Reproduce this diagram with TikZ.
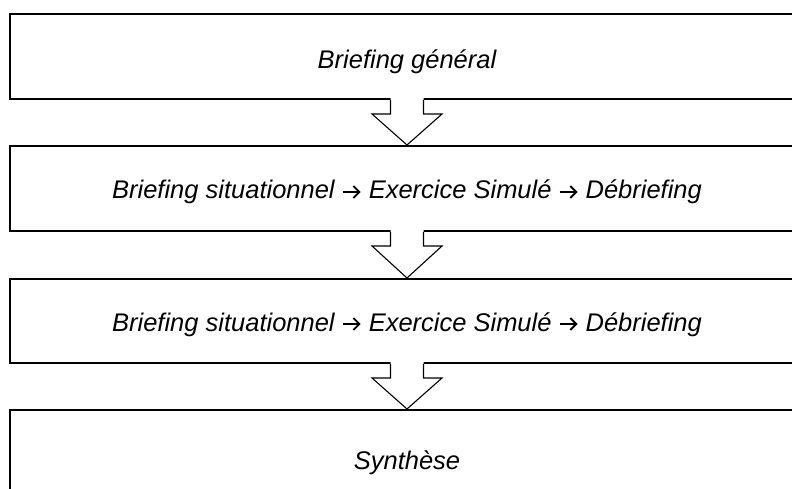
\documentclass[tikz,border=0pt]{standalone}
\usepackage{fontspec}
\setmainfont{Liberation Sans}
\usetikzlibrary{calc,arrows.meta}
\tikzset{
  stage/.style={draw=black, line width=2pt, fill=white, minimum width=794pt, inner sep=0pt, text depth=0pt, font=\fontsize{25.5}{30}\selectfont\itshape},
  blockarrow/.style={draw=black, line width=1.1pt, line join=miter},
}
\newcommand{\arr}{\tikz[baseline=-7pt,x=1pt,y=1pt]{\draw[draw=black, line width=1.9pt, line cap=butt, -{Straight Barb[length=6pt,width=12pt,line width=1.9pt]}] (0,0) -- (18,0);}}
\begin{document}
\begin{tikzpicture}[x=1pt,y=1pt]
\useasboundingbox (0,0) rectangle (792,-489);
\clip (0,0) rectangle (792,-489);
\node[stage, minimum height=84.5pt, text height=24pt] (b1) at (407,-56.75) {Briefing général};
\node[stage, minimum height=85pt, text height=21pt] (b2) at (407,-188.5) {Briefing situationnel \arr{} Exercice Simulé \arr{} Débriefing};
\node[stage, minimum height=84pt, text height=20pt] (b3) at (407,-321) {Briefing situationnel \arr{} Exercice Simulé \arr{} Débriefing};
\node[stage, minimum height=100pt, text height=18pt] (b4) at (407,-460) {Synthèse};
\foreach \a/\b in {b1/b2, b2/b3, b3/b4}{
  \fill[white] ($(\a.south)+(-16.5,3)$) -- ($(\a.south)+(-16.5,-14)$) -- ($(\a.south)+(-35,-14)$) -- (\b.north) -- ($(\a.south)+(35,-14)$) -- ($(\a.south)+(16.5,-14)$) -- ($(\a.south)+(16.5,3)$) -- cycle;
  \draw[blockarrow] ($(\a.south)+(-16.5,0)$) -- ($(\a.south)+(-16.5,-14)$) -- ($(\a.south)+(-35,-14)$) -- (\b.north) -- ($(\a.south)+(35,-14)$) -- ($(\a.south)+(16.5,-14)$) -- ($(\a.south)+(16.5,0)$);
}
\end{tikzpicture}
\end{document}
